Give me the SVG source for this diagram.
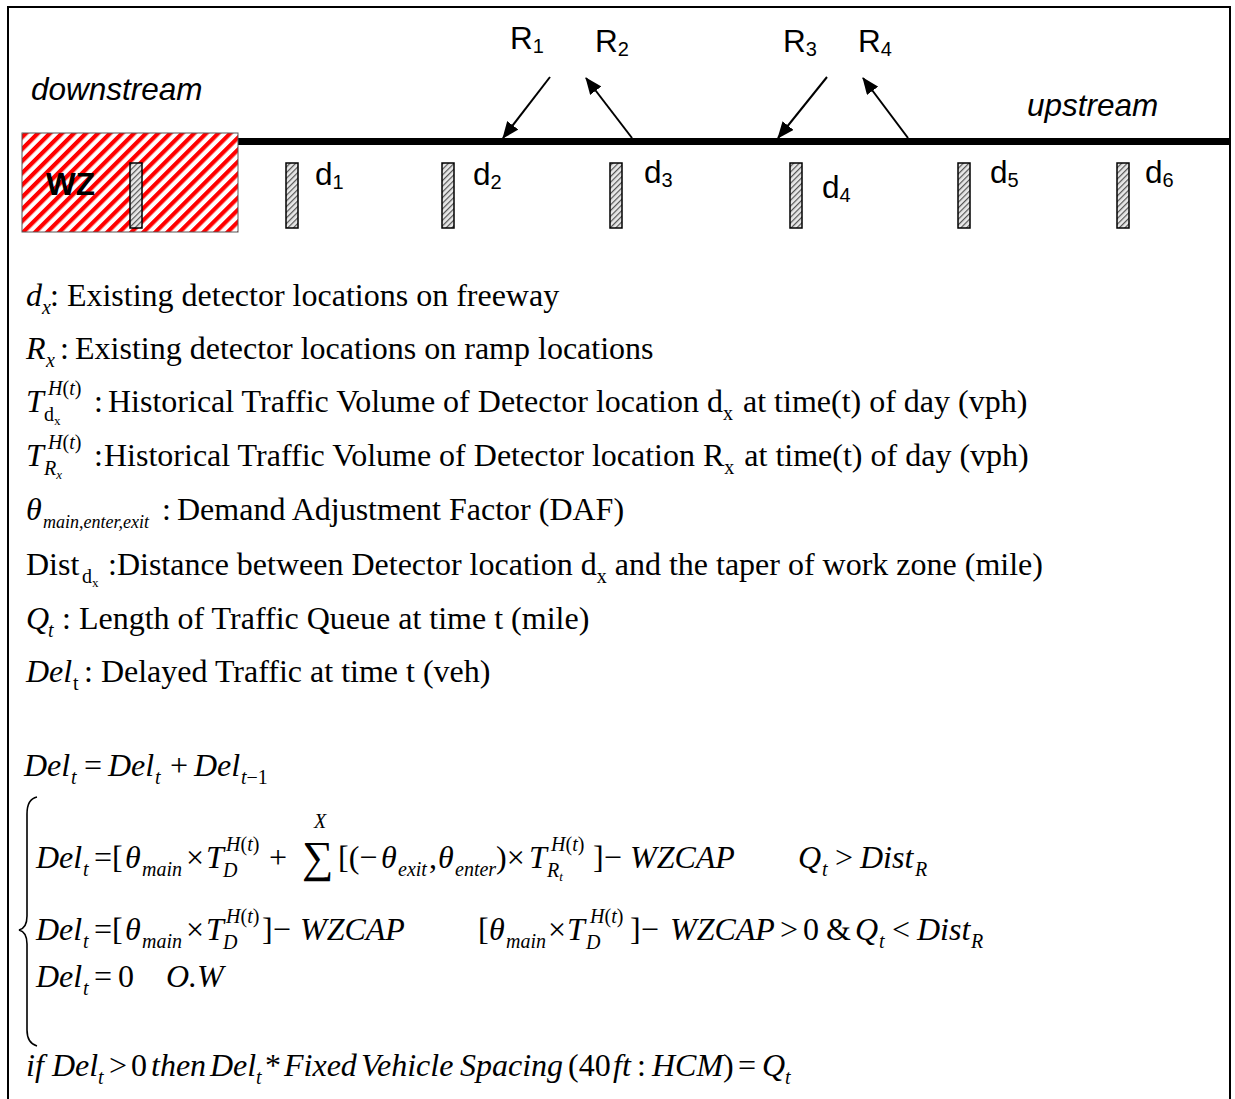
<svg xmlns="http://www.w3.org/2000/svg" width="1235" height="1099" viewBox="0 0 1235 1099">
<style>
.sans{font-family:"Liberation Sans",Arial,sans-serif;font-size:31.5px;fill:#000}
.ssub{font-size:20px}
.it{font-style:italic}
.s{font-family:"Liberation Serif","Times New Roman",serif;font-size:32px;fill:#000}
.m{font-family:"Liberation Serif","Times New Roman",serif;font-size:32px;fill:#000;font-style:italic}
.up{font-style:normal}
.sb{font-size:20px}
.ss{font-size:13px}
.det{fill:url(#dhatch);stroke:#000;stroke-width:1.5}
.arr{stroke:#000;stroke-width:2;fill:none;marker-end:url(#ah)}
</style>
<defs>
<pattern id="rhatch" patternUnits="userSpaceOnUse" width="8.5" height="8.5" patternTransform="rotate(45)">
<rect width="8.5" height="8.5" fill="#fff"/>
<rect width="4.2" height="8.5" fill="#f00"/>
</pattern>
<pattern id="dhatch" patternUnits="userSpaceOnUse" width="4" height="4" patternTransform="rotate(45)">
<rect width="4" height="4" fill="#e8e8e8"/>
<rect width="1.2" height="4" fill="#555"/>
</pattern>
<marker id="ah" markerUnits="userSpaceOnUse" markerWidth="17" markerHeight="14" refX="16" refY="7" orient="auto">
<path d="M0,0 L17,7 L0,14 z" fill="#000"/>
</marker>
</defs>
<rect width="1235" height="1099" fill="#fff"/>
<path d="M8,1099 V7 H1230 V1099" fill="none" stroke="#000" stroke-width="2"/>

<g id="road">
<line x1="238" y1="141.5" x2="1230" y2="141.5" stroke="#000" stroke-width="7"/>
</g>
<g id="workzone">
<rect x="22" y="133" width="216" height="99" fill="url(#rhatch)" stroke="#555" stroke-width="1"/>
<text class="sans" x="46" y="195" font-weight="bold">WZ</text>
<rect class="det" x="130" y="163" width="12" height="65"/>
</g>
<g id="labels">
<text class="sans it" x="31" y="100">downstream</text>
<text class="sans it" x="1027" y="116">upstream</text>
</g>
<g id="d1"><rect class="det" x="286" y="163" width="12" height="65"/><text class="sans" x="315" y="185">d<tspan class="ssub" dy="4">1</tspan></text></g>
<g id="d2"><rect class="det" x="442" y="163" width="12" height="65"/><text class="sans" x="473" y="185">d<tspan class="ssub" dy="4">2</tspan></text></g>
<g id="d3"><rect class="det" x="610" y="163" width="12" height="65"/><text class="sans" x="644" y="183">d<tspan class="ssub" dy="4">3</tspan></text></g>
<g id="d4"><rect class="det" x="790" y="163" width="12" height="65"/><text class="sans" x="822" y="198">d<tspan class="ssub" dy="4">4</tspan></text></g>
<g id="d5"><rect class="det" x="958" y="163" width="12" height="65"/><text class="sans" x="990" y="183">d<tspan class="ssub" dy="4">5</tspan></text></g>
<g id="d6"><rect class="det" x="1117" y="163" width="12" height="65"/><text class="sans" x="1145" y="183">d<tspan class="ssub" dy="4">6</tspan></text></g>
<g id="R1"><text class="sans" x="510" y="49">R<tspan class="ssub" dy="4">1</tspan></text></g>
<g id="R2"><text class="sans" x="595" y="52">R<tspan class="ssub" dy="4">2</tspan></text></g>
<g id="R3"><text class="sans" x="783" y="52">R<tspan class="ssub" dy="4">3</tspan></text></g>
<g id="R4"><text class="sans" x="858" y="52">R<tspan class="ssub" dy="4">4</tspan></text></g>
<g id="connectors">
<line class="arr" x1="550" y1="77" x2="503" y2="138"/>
<line class="arr" x1="632" y1="138" x2="586" y2="78"/>
<line class="arr" x1="827" y1="77" x2="778" y2="138"/>
<line class="arr" x1="908" y1="138" x2="863" y2="78"/>
</g>

<g id="legend">
<text class="s" y="306"><tspan class="it" x="26">d</tspan><tspan class="it sb" x="42" y="314">x</tspan><tspan x="50" y="306">: Existing detector locations on freeway</tspan></text>
<text class="s" y="359"><tspan class="it" x="26">R</tspan><tspan class="it sb" x="46" y="367">x</tspan><tspan x="60" y="359">:</tspan><tspan x="75">Existing detector locations on ramp locations</tspan></text>
<text class="s" y="412"><tspan class="it" x="26">T</tspan><tspan class="sb" x="48" y="395"><tspan class="it">H</tspan>(<tspan class="it">t</tspan>)</tspan><tspan class="sb" x="44" y="421">d</tspan><tspan class="ss" y="425">x</tspan><tspan x="94" y="412">:</tspan><tspan x="108">Historical Traffic Volume of Detector location d</tspan><tspan class="sb" dy="8">x</tspan><tspan dx="10" dy="-8">at time(t) of day (vph)</tspan></text>
<text class="s" y="466"><tspan class="it" x="26">T</tspan><tspan class="sb" x="48" y="449"><tspan class="it">H</tspan>(<tspan class="it">t</tspan>)</tspan><tspan class="it sb" x="44" y="475">R</tspan><tspan class="it ss" y="479">x</tspan><tspan x="94" y="466">:</tspan><tspan x="104">Historical Traffic Volume of Detector location R</tspan><tspan class="sb" dy="8">x</tspan><tspan dx="10" dy="-8">at time(t) of day (vph)</tspan></text>
<text class="s" y="520"><tspan class="it" x="26">θ</tspan><tspan class="it" font-size="18" x="43" y="528">main,enter,exit</tspan><tspan x="162" y="520">:</tspan><tspan x="177">Demand Adjustment Factor (DAF)</tspan></text>
<text class="s" y="575"><tspan x="26">Dist</tspan><tspan class="sb" x="82" y="583">d</tspan><tspan class="ss" y="587">x</tspan><tspan x="108" y="575">:Distance between Detector location d</tspan><tspan class="sb" dy="8">x</tspan><tspan dx="8" dy="-8">and the taper of work zone (mile)</tspan></text>
<text class="s" y="629"><tspan class="it" x="26">Q</tspan><tspan class="it sb" x="48" y="637">t</tspan><tspan x="62" y="629">: Length of Traffic Queue at time t (mile)</tspan></text>
<text class="s" y="682"><tspan class="it" x="26">Del</tspan><tspan class="sb" x="73" y="690">t</tspan><tspan x="84" y="682">: Delayed Traffic at time t (veh)</tspan></text>
</g>

<g id="equations">
<text class="m" y="776"><tspan x="24">Del</tspan><tspan class="sb" x="71" y="784">t</tspan><tspan class="up" x="84" y="776">=</tspan><tspan x="108">Del</tspan><tspan class="sb" x="155" y="784">t</tspan><tspan class="up" x="170" y="776">+</tspan><tspan x="194">Del</tspan><tspan class="sb" x="241" y="784">t<tspan class="up">−1</tspan></tspan></text>

<path d="M37,797 Q27,799 27,814 L27,916 Q27,928 19,930 Q27,932 27,944 L27,1030 Q27,1043 37,1046" fill="none" stroke="#000" stroke-width="1.6"/>

<text class="m" y="868"><tspan x="36">Del</tspan><tspan class="sb" x="83" y="876">t</tspan><tspan class="up" x="94" y="868">=[</tspan><tspan x="125">θ</tspan><tspan class="sb" x="142" y="876">main</tspan><tspan class="up" x="186" y="868">×</tspan><tspan x="206">T</tspan><tspan class="sb" x="226" y="851">H<tspan class="up">(</tspan>t<tspan class="up">)</tspan></tspan><tspan class="sb" x="223" y="877">D</tspan><tspan class="up" x="269" y="868">+</tspan><tspan class="up" font-size="44" x="302" y="872">∑</tspan><tspan class="sb" x="314" y="828">X</tspan><tspan class="up" x="338" y="868">[(−</tspan><tspan x="381">θ</tspan><tspan class="sb" x="398" y="876">exit</tspan><tspan class="up" x="429" y="868">,</tspan><tspan x="438">θ</tspan><tspan class="sb" x="455" y="876">enter</tspan><tspan class="up" x="496" y="868">)×</tspan><tspan x="529">T</tspan><tspan class="sb" x="551" y="851">H<tspan class="up">(</tspan>t<tspan class="up">)</tspan></tspan><tspan class="sb" x="547" y="877">R</tspan><tspan class="ss" y="881">t</tspan><tspan class="up" x="593" y="868">]−</tspan><tspan x="630">WZCAP</tspan><tspan x="798">Q</tspan><tspan class="sb" x="822" y="876">t</tspan><tspan class="up" x="835" y="868">&gt;</tspan><tspan x="860">Dist</tspan><tspan class="sb" x="915" y="876">R</tspan></text>

<text class="m" y="940"><tspan x="36">Del</tspan><tspan class="sb" x="83" y="948">t</tspan><tspan class="up" x="94" y="940">=[</tspan><tspan x="125">θ</tspan><tspan class="sb" x="142" y="948">main</tspan><tspan class="up" x="186" y="940">×</tspan><tspan x="206">T</tspan><tspan class="sb" x="226" y="923">H<tspan class="up">(</tspan>t<tspan class="up">)</tspan></tspan><tspan class="sb" x="223" y="949">D</tspan><tspan class="up" x="262" y="940">]−</tspan><tspan x="300">WZCAP</tspan><tspan class="up" x="478">[</tspan><tspan x="489">θ</tspan><tspan class="sb" x="506" y="948">main</tspan><tspan class="up" x="548" y="940">×</tspan><tspan x="567">T</tspan><tspan class="sb" x="590" y="923">H<tspan class="up">(</tspan>t<tspan class="up">)</tspan></tspan><tspan class="sb" x="586" y="949">D</tspan><tspan class="up" x="630" y="940">]−</tspan><tspan x="670">WZCAP</tspan><tspan class="up" x="780">&gt;</tspan><tspan class="up" x="803">0</tspan><tspan class="up" x="826">&amp;</tspan><tspan x="855">Q</tspan><tspan class="sb" x="879" y="948">t</tspan><tspan class="up" x="892" y="940">&lt;</tspan><tspan x="917">Dist</tspan><tspan class="sb" x="971" y="948">R</tspan></text>

<text class="m" y="987"><tspan x="36">Del</tspan><tspan class="sb" x="83" y="995">t</tspan><tspan class="up" x="94" y="987">=</tspan><tspan class="up" x="118">0</tspan><tspan x="166">O.W</tspan></text>

<text class="m" y="1076" font-size="31"><tspan x="26">if</tspan><tspan x="52">Del</tspan><tspan class="sb" x="98" y="1084" font-size="19">t</tspan><tspan class="up" x="109" y="1076">&gt;</tspan><tspan class="up" x="131">0</tspan><tspan x="151">then</tspan><tspan x="210">Del</tspan><tspan class="sb" x="256" y="1084" font-size="19">t</tspan><tspan class="up" x="265" y="1076">*</tspan><tspan x="284">Fixed</tspan><tspan x="361">Vehicle</tspan><tspan x="460">Spacing</tspan><tspan class="up" x="568">(40</tspan><tspan x="613">ft</tspan><tspan class="up" x="637">:</tspan><tspan x="652">HCM</tspan><tspan class="up" x="723">)</tspan><tspan class="up" x="738">=</tspan><tspan x="762">Q</tspan><tspan class="sb" x="785" y="1084" font-size="19">t</tspan></text>
</g>
</svg>
